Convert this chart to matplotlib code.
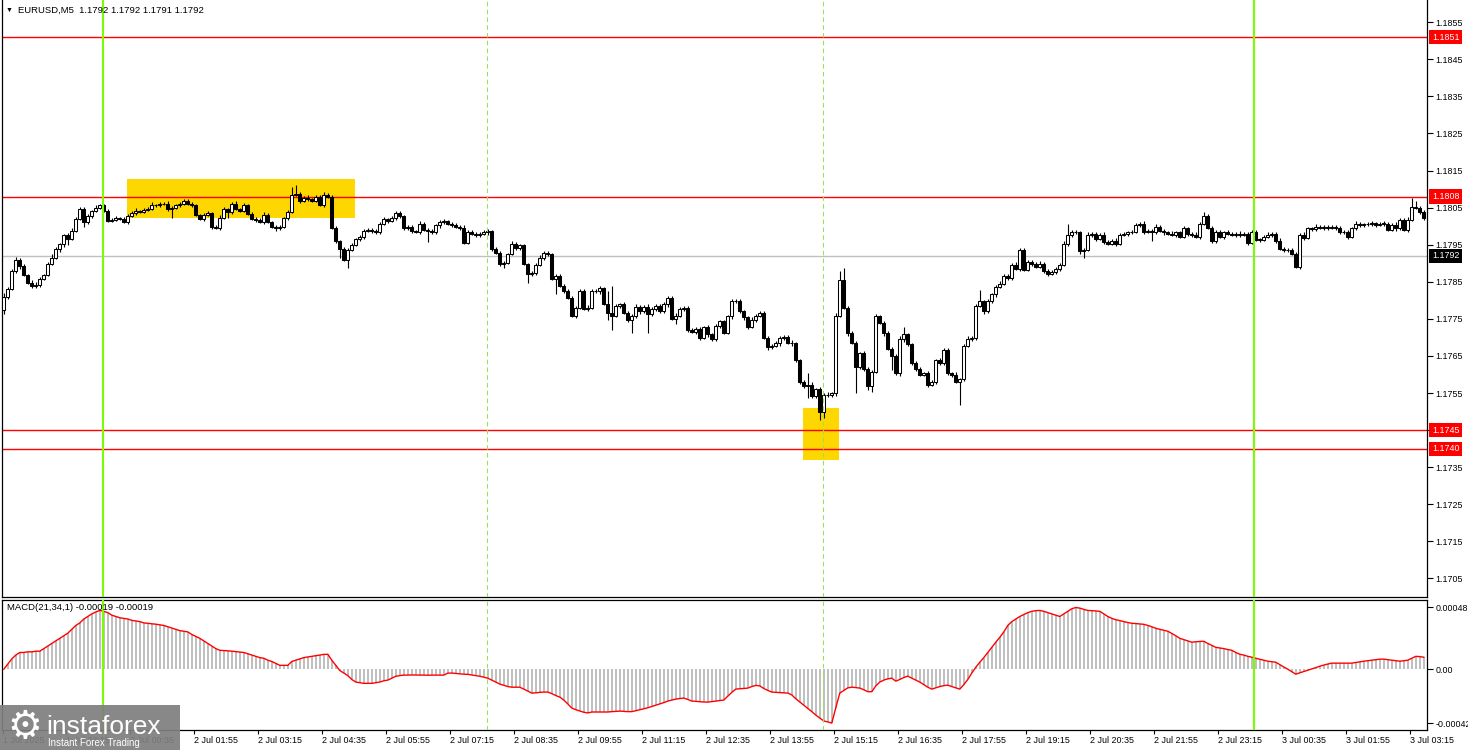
import matplotlib
matplotlib.use('Agg')
import matplotlib.pyplot as plt
import matplotlib.transforms as mtransforms
from matplotlib.patches import Rectangle

plt.rcParams['font.family'] = ['Liberation Sans', 'DejaVu Sans']
plt.rcParams['axes.unicode_minus'] = False

# EURUSD M5 closes, in pips above 1.1700
close_pips = [
    81.0, 83.1, 88.0, 91.0, 89.3, 86.9, 84.8, 84.0, 84.2, 85.8,
    86.9, 89.9, 91.5, 93.9, 95.3, 97.7, 96.6, 98.8, 102.0, 104.7,
    101.0, 102.8, 104.2, 105.0, 105.6, 104.2, 101.5, 101.8, 102.3, 102.0,
    101.2, 102.8, 103.6, 104.2, 103.9, 104.5, 104.7, 105.8, 105.7, 106.1,
    106.0, 104.7, 105.0, 105.8, 105.9, 106.9, 106.1, 105.6, 103.1, 102.0,
    103.1, 103.6, 99.9, 99.6, 102.3, 104.7, 103.9, 106.1, 104.7, 104.2,
    105.8, 103.4, 102.0, 101.8, 101.2, 103.1, 101.2, 99.9, 99.6, 99.9,
    102.3, 103.9, 108.5, 108.8, 106.9, 107.7, 107.2, 106.9, 108.0, 105.8,
    108.5, 108.0, 99.6, 96.1, 93.9, 91.0, 93.7, 95.0, 96.6, 97.0,
    98.8, 99.1, 98.8, 98.3, 100.7, 102.0, 101.5, 102.3, 103.6, 102.8,
    99.4, 99.9, 98.8, 98.5, 100.7, 99.1, 98.8, 98.3, 100.2, 101.0,
    101.5, 100.7, 100.4, 99.9, 99.6, 95.6, 98.5, 98.0, 97.7, 98.0,
    98.3, 98.8, 93.9, 92.9, 89.9, 90.2, 92.6, 95.3, 94.2, 94.8,
    89.9, 87.2, 87.5, 89.6, 91.5, 92.9, 92.6, 85.8, 86.6, 84.0,
    82.6, 80.7, 75.9, 78.0, 82.6, 77.8, 78.0, 82.6, 82.4, 83.2,
    79.1, 76.7, 75.9, 78.6, 78.9, 76.7, 74.6, 75.7, 78.3, 77.0,
    78.3, 76.2, 77.8, 78.6, 77.0, 78.9, 80.7, 75.1, 75.9, 77.8,
    78.0, 71.9, 71.6, 72.4, 69.9, 72.7, 70.8, 69.5, 73.2, 74.3,
    71.3, 75.7, 79.7, 79.9, 77.0, 75.4, 72.9, 74.8, 75.9, 76.5,
    69.9, 67.3, 67.8, 68.4, 69.9, 70.2, 68.6, 68.4, 63.8, 57.9,
    57.0, 57.3, 54.1, 56.0, 50.0, 54.6, 54.4, 54.9, 75.9, 85.6,
    78.0, 71.1, 68.6, 61.9, 65.7, 61.6, 56.8, 60.8, 75.7, 74.0,
    71.1, 67.0, 64.9, 60.3, 69.7, 70.8, 68.1, 63.0, 61.6, 60.0,
    60.3, 57.3, 57.9, 63.8, 63.2, 66.7, 60.3, 60.0, 58.1, 58.7,
    67.8, 69.7, 69.9, 78.6, 79.7, 77.0, 79.7, 81.6, 83.7, 84.5,
    86.6, 86.1, 89.6, 88.5, 93.7, 88.3, 90.4, 89.9, 89.1, 89.9,
    88.0, 87.2, 87.7, 88.5, 89.6, 95.3, 97.7, 98.5, 98.4, 93.2,
    93.7, 97.7, 98.0, 96.6, 97.7, 95.8, 95.3, 96.1, 95.3, 97.7,
    98.0, 98.3, 98.5, 100.4, 100.7, 98.5, 98.8, 98.5, 99.9, 98.8,
    98.3, 98.0, 97.7, 98.3, 97.2, 99.4, 98.0, 97.7, 97.2, 100.7,
    102.8, 99.6, 96.1, 98.5, 97.2, 98.3, 98.0, 97.7, 98.0, 97.7,
    98.0, 95.6, 98.5, 96.4, 96.4, 97.2, 97.7, 98.0, 96.1, 93.9,
    93.7, 93.6, 92.6, 89.1, 97.7, 96.9, 99.4, 99.3, 99.9, 99.6,
    99.9, 99.6, 99.7, 99.6, 98.3, 98.5, 97.2, 99.4, 100.7, 100.4,
    100.5, 100.7, 100.8, 100.4, 100.7, 100.7, 99.1, 100.4, 99.4, 101.8,
    99.1, 101.8, 105.3, 105.0, 103.9, 102.3,
]
first_open_pips = 77.3

# wick lengths above / below the body, pips
wick_up_pips = [
    1.0, 0.5, 0.5, 0.6, 0.3, 0.4, 0.3, 0.6, 0.8, 0.4,
    0.3, 0.4, 0.9, 0.4, 0.2, 0.3, 0.4, 0.6, 0.5, 0.6,
    0.4, 0.5, 0.3, 0.6, 0.4, 0.3, 0.4, 0.5, 0.4, 0.3,
    0.5, 0.4, 0.6, 0.8, 0.3, 0.5, 0.4, 0.6, 0.3, 0.4,
    0.5, 0.8, 0.4, 0.3, 0.5, 0.4, 0.3, 0.5, 0.4, 0.3,
    0.4, 0.5, 0.3, 0.4, 0.6, 0.5, 0.3, 0.4, 0.8, 0.3,
    0.5, 0.3, 0.4, 0.5, 0.3, 0.6, 0.4, 0.3, 0.5, 0.4,
    0.3, 0.5, 2.2, 2.2, 0.5, 0.4, 0.6, 0.3, 0.5, 0.4,
    0.6, 0.5, 0.3, 0.4, 0.3, 0.5, 0.4, 0.6, 0.3, 0.5,
    0.4, 0.5, 0.3, 0.4, 0.5, 0.6, 0.3, 0.4, 0.5, 0.6,
    0.3, 0.4, 0.5, 0.3, 0.6, 0.4, 0.3, 0.5, 0.4, 0.6,
    0.5, 0.3, 0.4, 0.5, 0.3, 0.6, 0.4, 0.5, 0.3, 0.4,
    0.6, 0.4, 0.3, 0.5, 0.4, 0.5, 0.3, 0.6, 0.4, 0.5,
    0.4, 0.3, 0.5, 0.4, 0.6, 0.5, 0.4, 0.3, 0.5, 0.4,
    0.3, 0.5, 0.4, 0.6, 0.5, 0.4, 0.8, 0.5, 0.4, 0.6,
    0.5, 3.5, 7.3, 0.5, 0.4, 0.6, 0.4, 0.5, 0.6, 0.4,
    0.5, 0.6, 0.4, 0.5, 0.3, 0.6, 0.5, 0.4, 0.6, 0.5,
    0.4, 0.5, 0.6, 0.4, 0.5, 0.3, 0.6, 0.4, 0.5, 0.4,
    0.5, 0.4, 0.6, 0.5, 0.4, 0.5, 0.3, 0.6, 0.4, 0.5,
    0.6, 0.4, 0.5, 0.6, 0.4, 0.5, 0.4, 0.6, 0.5, 0.4,
    0.5, 3.0, 0.6, 0.4, 0.5, 0.4, 0.6, 0.5, 0.8, 2.4,
    3.2, 0.5, 0.6, 0.4, 0.5, 0.6, 0.4, 0.5, 0.6, 0.4,
    0.5, 0.6, 0.3, 0.5, 0.6, 1.9, 0.5, 0.4, 0.6, 0.5,
    0.4, 0.6, 0.5, 0.4, 0.6, 0.5, 0.4, 0.5, 0.6, 0.4,
    0.5, 0.6, 0.4, 0.5, 3.2, 0.4, 0.6, 0.5, 0.4, 0.6,
    0.5, 0.4, 0.6, 0.8, 0.5, 0.4, 0.6, 0.5, 0.4, 0.6,
    0.5, 0.4, 0.6, 0.5, 0.4, 0.6, 3.0, 0.5, 0.6, 0.4,
    0.5, 0.6, 0.4, 0.5, 0.4, 0.6, 0.5, 0.4, 0.6, 0.5,
    0.4, 0.5, 0.6, 0.4, 0.5, 0.6, 0.4, 0.5, 0.6, 0.4,
    0.5, 0.4, 0.6, 0.5, 0.4, 0.6, 0.5, 0.4, 0.6, 0.5,
    0.9, 0.5, 0.4, 0.6, 0.5, 0.4, 0.6, 0.5, 0.4, 0.6,
    0.5, 0.4, 0.6, 0.5, 0.4, 0.5, 0.6, 0.4, 0.5, 0.6,
    0.4, 0.5, 0.6, 0.4, 0.5, 0.6, 0.4, 0.5, 0.6, 0.4,
    0.5, 0.4, 0.6, 0.5, 0.4, 0.6, 0.5, 0.4, 0.6, 0.5,
    0.4, 0.5, 0.6, 0.4, 0.5, 0.6, 0.4, 0.5, 0.6, 0.4,
    0.5, 0.6, 2.4, 1.6, 0.5, 0.4,
]
wick_dn_pips = [
    1.0, 0.5, 0.4, 0.6, 0.8, 0.3, 0.4, 0.8, 0.8, 0.5,
    0.4, 0.3, 0.5, 0.4, 0.8, 0.8, 1.6, 0.4, 0.5, 0.3,
    1.3, 0.4, 0.5, 0.3, 0.4, 0.5, 0.3, 0.4, 0.5, 0.4,
    0.3, 0.5, 0.4, 0.5, 0.4, 0.3, 0.5, 0.4, 0.6, 0.4,
    0.3, 0.5, 2.5, 0.4, 0.5, 0.3, 0.4, 0.5, 0.3, 0.4,
    0.5, 0.4, 0.6, 0.3, 0.5, 0.4, 1.6, 0.5, 0.3, 0.4,
    0.4, 0.5, 0.3, 0.6, 0.4, 0.5, 0.3, 0.4, 0.8, 0.5,
    0.4, 0.5, 0.3, 0.4, 0.6, 0.5, 0.4, 0.5, 0.3, 0.4,
    0.5, 0.4, 0.3, 0.5, 2.4, 0.4, 2.2, 0.5, 0.4, 0.6,
    0.5, 0.4, 0.6, 0.5, 0.4, 0.5, 0.6, 0.4, 0.5, 0.6,
    0.4, 0.5, 0.6, 0.4, 0.5, 0.4, 3.0, 0.5, 0.4, 0.6,
    0.5, 0.4, 0.6, 0.5, 0.6, 0.4, 0.5, 0.4, 0.6, 0.5,
    0.4, 0.6, 0.5, 0.4, 0.6, 1.1, 0.5, 0.4, 0.6, 0.5,
    0.4, 2.4, 0.5, 0.6, 0.4, 0.5, 0.6, 0.4, 4.0, 0.5,
    0.6, 0.4, 0.5, 0.6, 0.4, 0.5, 0.6, 0.4, 0.5, 0.6,
    0.4, 2.1, 4.0, 0.5, 0.6, 0.4, 0.5, 3.5, 0.4, 0.6,
    0.5, 5.0, 0.4, 0.6, 0.5, 0.4, 0.6, 0.5, 1.4, 0.4,
    0.6, 0.5, 0.4, 0.6, 0.5, 0.4, 0.6, 0.5, 0.4, 0.6,
    0.5, 0.4, 0.6, 0.5, 0.4, 0.6, 0.5, 0.4, 0.6, 0.5,
    0.4, 0.6, 0.5, 0.4, 0.6, 0.5, 0.4, 0.6, 0.5, 0.4,
    0.6, 3.2, 0.5, 0.4, 2.4, 1.6, 0.5, 0.4, 0.6, 0.5,
    0.4, 0.6, 0.5, 7.0, 0.4, 0.6, 1.1, 1.5, 0.5, 0.4,
    0.6, 0.5, 3.8, 0.4, 0.6, 1.0, 0.5, 0.4, 0.6, 0.5,
    0.4, 0.6, 0.5, 0.4, 0.6, 0.5, 0.4, 0.6, 0.5, 6.4,
    0.5, 0.4, 0.6, 0.5, 0.4, 0.6, 0.5, 0.4, 0.6, 0.5,
    0.4, 0.6, 0.5, 0.4, 0.6, 0.5, 0.4, 0.6, 0.5, 0.4,
    0.6, 0.5, 0.4, 0.6, 0.5, 0.4, 0.6, 0.5, 0.4, 0.6,
    1.9, 0.4, 0.6, 0.5, 0.4, 0.6, 0.5, 0.4, 0.6, 0.5,
    0.4, 0.6, 0.5, 0.4, 0.6, 0.5, 0.4, 2.4, 0.5, 0.4,
    0.6, 0.5, 0.4, 0.6, 0.5, 0.4, 0.6, 0.5, 0.4, 0.6,
    0.5, 0.4, 0.6, 0.5, 0.4, 0.6, 0.5, 0.4, 0.6, 0.5,
    0.4, 0.6, 0.5, 0.4, 0.6, 0.5, 0.4, 0.6, 0.5, 0.4,
    0.6, 0.5, 0.4, 0.5, 0.6, 0.5, 0.4, 0.6, 0.5, 0.4,
    0.6, 0.5, 0.4, 0.6, 0.5, 0.4, 0.6, 0.5, 0.4, 0.6,
    0.5, 0.4, 0.6, 0.5, 0.4, 0.6, 0.5, 0.4, 0.6, 0.5,
    0.4, 0.6, 0.5, 0.4, 0.6, 0.5,
]

# MACD(21,34,1) main line, units of 1e-5
macd_1e5 = [
    0, 4, 8, 11, 13, 13, 13.5, 13.5, 14, 14,
    16, 18, 20, 22, 24, 26, 28, 31, 34, 36,
    39, 41, 43, 44.5, 45.7, 45, 44, 42, 41, 40,
    39.5, 39, 38, 37.5, 37, 36, 35.7, 35.3, 35, 34.5,
    34, 33, 32, 31, 30, 29.5, 29, 27, 25.5, 24,
    22, 20, 18, 16, 14.7, 14.5, 14.3, 14, 13.7, 13.3,
    13, 12, 11, 10, 9, 8.5, 7, 6, 4.5, 3,
    3, 3, 6, 7, 8, 9, 9.5, 10, 10.5, 11,
    11.5, 11.6, 7, 3, -1, -3, -5, -8, -10, -10.5,
    -11, -11, -11, -10.5, -10, -9, -8.5, -7, -5.5, -5,
    -4.6, -4.6, -4.5, -4.5, -4.6, -4.6, -4.7, -4.6, -4.6, -4.6,
    -4.6, -3.1, -3, -3.3, -3.6, -3.9, -4, -4.5, -5, -5.5,
    -6.2, -7, -8.5, -10, -11.6, -12.5, -13.5, -14, -14, -14,
    -15.5, -17, -18.6, -18.4, -18, -17.8, -17.8, -19, -20.5, -21.7,
    -24, -27, -30.2, -31.5, -32.5, -33.5, -34, -33.3, -33.3, -33.3,
    -33.3, -33.3, -33, -32.8, -32.6, -32.8, -33, -33, -32.3, -31.5,
    -30.8, -30, -29, -28, -27, -26, -24.8, -24, -23.3, -22.8,
    -22.5, -23.5, -24.8, -25, -25.3, -25.5, -25.6, -25.2, -24.8, -24.4,
    -24, -21, -18, -15.5, -15.2, -15, -14.7, -13.5, -12.6, -13,
    -15, -16.5, -17.8, -18, -18.2, -18.4, -18.6, -20, -23, -25.5,
    -27.9, -30.5, -33, -35.7, -38, -40.3, -41, -41.9, -30, -18.6,
    -16.5, -14.5, -14, -14.3, -14.7, -16, -17.5, -17.5, -13, -10,
    -8.5, -7.5, -7, -9.3, -8, -6.5, -5.4, -7, -8.5, -10,
    -12, -14, -15.5, -14.5, -13.5, -12.8, -12.4, -13.5, -14.5, -15.5,
    -12, -8, -3, 1.5, 5.4, 9, 13, 17, 21, 24.8,
    29, 34, 37, 39, 41, 42.5, 44, 45, 45.5, 45.7,
    45, 44, 43, 42, 41, 43, 45, 47, 48, 47.5,
    46.5, 45.7, 45.5, 45.3, 45, 43, 41, 39.5, 38.5, 37.8,
    37, 36.3, 35.7, 35.5, 35.2, 34.9, 34, 33, 31.8, 31,
    30.3, 29.5, 27.8, 26, 24, 23, 22, 21, 21.3, 21.6,
    21.7, 20, 18.5, 17, 16.5, 16, 15.3, 14.7, 13, 11.6,
    11, 10, 9.3, 8.5, 7.7, 7, 6.2, 5.8, 5.4, 3.5,
    1.7, 0, -2, -3.9, -2.8, -1.8, -0.8, 0.2, 1.2, 2.3,
    3.2, 4, 4.7, 4.7, 4.7, 4.7, 4.7, 4.7, 5.2, 5.7,
    6.2, 6.6, 7, 7.4, 7.8, 7.8, 7.4, 7, 6.6, 6.2,
    6.6, 7, 8.5, 10, 9.8, 9.3,
]

red_levels = [1.1851, 1.1808, 1.1745, 1.1740]
bid_level = 1.1792
price_ticks = [1.1705, 1.1715, 1.1725, 1.1735, 1.1745, 1.1755, 1.1765, 1.1775,
               1.1785, 1.1795, 1.1805, 1.1815, 1.1825, 1.1835, 1.1845, 1.1855]
macd_ticks = [0.00048, 0.0, -0.00042]
macd_tick_labels = ['0.00048', '0.00', '-0.00042']
time_labels = ['1 Jul 2025', '1 Jul 23:15', '2 Jul 00:35', '2 Jul 01:55', '2 Jul 03:15',
               '2 Jul 04:35', '2 Jul 05:55', '2 Jul 07:15', '2 Jul 08:35', '2 Jul 09:55',
               '2 Jul 11:15', '2 Jul 12:35', '2 Jul 13:55', '2 Jul 15:15', '2 Jul 16:35',
               '2 Jul 17:55', '2 Jul 19:15', '2 Jul 20:35', '2 Jul 21:55', '2 Jul 23:15',
               '3 Jul 00:35', '3 Jul 01:55', '3 Jul 03:15']

base = 1.17
pip = 0.0001
n = len(close_pips)
xs = list(range(n))
closes = [base + c * pip for c in close_pips]
opens = [base + first_open_pips * pip] + closes[:-1]
highs = [max(o, c) + w * pip for o, c, w in zip(opens, closes, wick_up_pips)]
lows = [min(o, c) - w * pip for o, c, w in zip(opens, closes, wick_dn_pips)]
macd = [v * 1e-5 for v in macd_1e5]

W, H = 1468, 750
fig = plt.figure(figsize=(W / 100, H / 100), dpi=100)
fig.patch.set_facecolor('white')
ax = fig.add_axes([2 / W, 1 - 597 / H, 1425 / W, 597 / H])
axm = fig.add_axes([2 / W, 1 - 729.5 / H, 1425 / W, 130 / H])

font = 6.4
for a in (ax, axm):
    a.set_xlim(-0.45, 355.8)
    a.spines['top'].set_visible(a is axm)
    for s in a.spines.values():
        s.set_linewidth(0.9)
    a.yaxis.tick_right()
    a.tick_params(axis='y', direction='out', length=4, width=0.8, pad=2, labelsize=font)

# yellow zones
ax.add_patch(Rectangle((30.9, 1.18023), 87.8 - 30.9, 1.18128 - 1.18023,
                       facecolor='#FFD700', edgecolor='none', zorder=1))
ax.add_patch(Rectangle((199.8, 1.17370), 208.7 - 199.8, 1.17511 - 1.17370,
                       facecolor='#FFD700', edgecolor='none', zorder=1))

ax.axhline(bid_level, color='#C0C0C0', lw=1, zorder=1.5)
for lvl in red_levels:
    ax.axhline(lvl, color='#FF0000', lw=1.0, zorder=2)

# candles
ax.vlines(xs, lows, highs, color='black', lw=0.8, zorder=3)
for x, o, c in zip(xs, opens, closes):
    bottom = min(o, c)
    height = max(abs(c - o), 0.000003)
    face = 'white' if c > o else 'black'
    ax.bar(x, height, bottom=bottom, width=0.72, color=face, edgecolor='black',
           linewidth=0.75, zorder=4)

ax.set_ylim(1.17000, 1.18610)
ax.set_yticks(price_ticks)
# the 1.1745 label is covered by the level marker, as in the terminal
ax.set_yticklabels(['' if abs(t - 1.1745) < 1e-6 else '%.4f' % t for t in price_ticks])
ax.set_xticks([])

# price markers on the scale
blend = mtransforms.blended_transform_factory(ax.transAxes, ax.transData)
for lvl in red_levels:
    ax.text(1.0035, lvl, '%.4f' % lvl, transform=blend, ha='left', va='center',
            fontsize=font, color='white', zorder=6, clip_on=False,
            bbox=dict(boxstyle='square,pad=0.3', facecolor='#FF0000', edgecolor='none'))
ax.text(1.0035, bid_level, '%.4f' % bid_level, transform=blend, ha='left', va='center',
        fontsize=font, color='white', zorder=6, clip_on=False,
        bbox=dict(boxstyle='square,pad=0.3', facecolor='black', edgecolor='none'))

# MACD panel
axm.bar(xs, macd, width=0.5, color='#C0C0C0', zorder=2)
axm.plot(xs, macd, color='#FF0000', lw=1, zorder=3)
axm.set_ylim(-0.000469, 0.000542)
axm.set_yticks(macd_ticks)
axm.set_yticklabels(macd_tick_labels)
time_pos = [-0.3] + [15.6 + 16 * k for k in range(len(time_labels) - 1)]
axm.set_xticks(time_pos)
axm.set_xticklabels(time_labels, ha='left', fontsize=font)
axm.tick_params(axis='x', direction='out', length=3, width=0.8, pad=2)

# session lines
for a in (ax, axm):
    for xv in (24.8, 312.6):
        a.axvline(xv, color='#7CFC00', lw=1.5, zorder=5)
    for xv in (120.8, 204.8):
        a.axvline(xv, color='#9AE05A', lw=0.8, ls=(0, (4, 3)), zorder=5)

fig.text(6 / W, 1 - 10 / H, '\u25bc', fontsize=5, va='center', ha='left')
fig.text(18 / W, 1 - 10 / H, 'EURUSD,M5  1.1792 1.1792 1.1791 1.1792', fontsize=font + 0.4,
         va='center', ha='left')
fig.text(7 / W, 1 - 608 / H, 'MACD(21,34,1) -0.00019 -0.00019', fontsize=font + 0.4,
         va='center', ha='left')

# watermark
fig.patches.append(Rectangle((0, 0), 180 / W, 45 / H, transform=fig.transFigure,
                             facecolor='#7F7F7F', edgecolor='none', alpha=0.93, zorder=10))
fig.text(25 / W, 1 - 727 / H, '\u2699', fontsize=28, color='white', ha='center',
         va='center', zorder=11, family='DejaVu Sans')
fig.text(46 / W, 1 - 734 / H, 'instaforex', fontsize=19, color='white', ha='left',
         va='baseline', zorder=11)
fig.text(48 / W, 1 - 746 / H, 'Instant Forex Trading', fontsize=7, color='white',
         ha='left', va='baseline', zorder=11)

fig.savefig('out.png', dpi=100)
